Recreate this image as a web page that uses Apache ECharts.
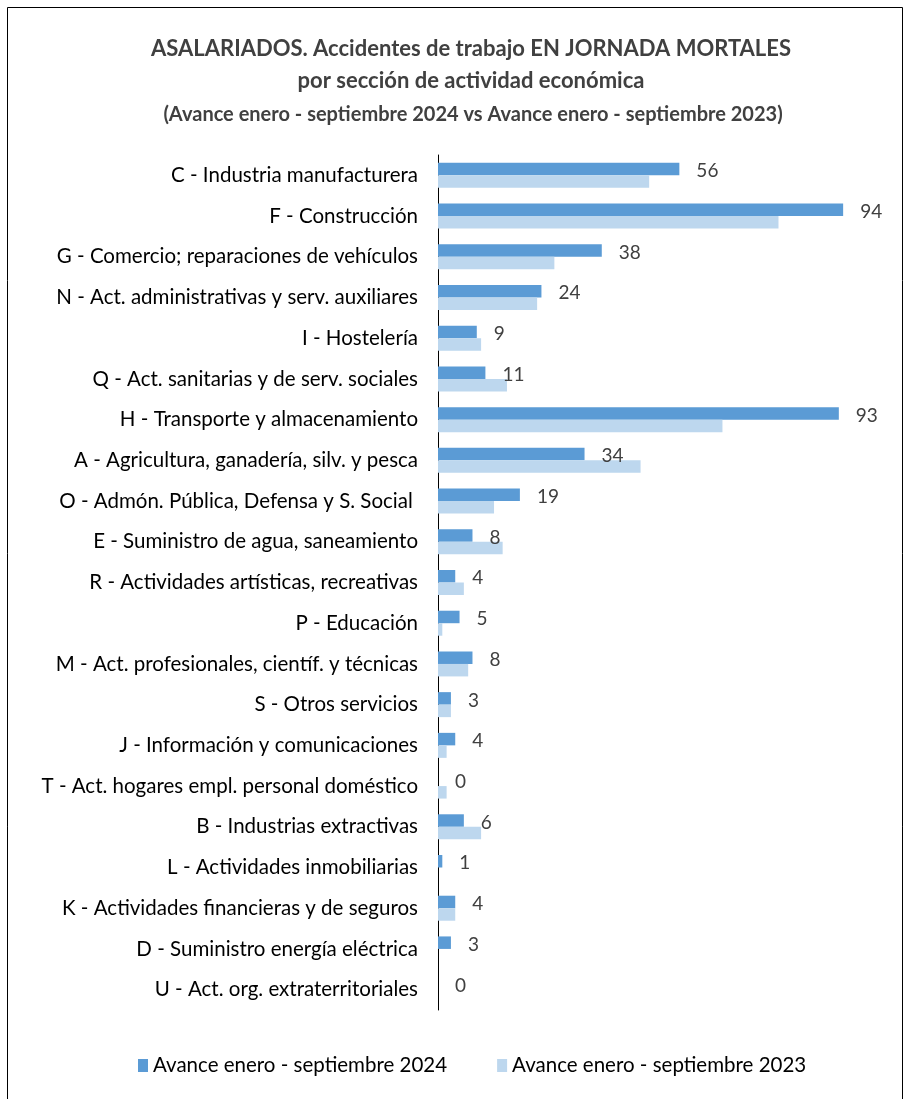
<!DOCTYPE html>
<html>
<head>
<meta charset="utf-8">
<script src="https://cdn.jsdelivr.net/npm/echarts@6/dist/echarts.min.js"></script>
<style>
html,body{margin:0;padding:0;background:#fff;}
#chart{width:910px;height:1099px;}
</style>
</head>
<body>
<div id="chart"></div>
<script>
var categories = [
  "C - Industria manufacturera",
  "F - Construcción",
  "G - Comercio; reparaciones de vehículos",
  "N - Act. administrativas y serv. auxiliares",
  "I - Hostelería",
  "Q - Act. sanitarias y de serv. sociales",
  "H - Transporte y almacenamiento",
  "A - Agricultura, ganadería, silv. y pesca",
  "O - Admón. Pública, Defensa y S. Social ",
  "E - Suministro de agua, saneamiento",
  "R - Actividades artísticas, recreativas",
  "P - Educación",
  "M - Act. profesionales, científ. y técnicas",
  "S - Otros servicios",
  "J - Información y comunicaciones",
  "T - Act. hogares empl. personal doméstico",
  "B - Industrias extractivas",
  "L - Actividades inmobiliarias",
  "K - Actividades financieras y de seguros",
  "D - Suministro energía eléctrica",
  "U - Act. org. extraterritoriales"
];
var values2024 = [56, 94, 38, 24, 9, 11, 93, 34, 19, 8, 4, 5, 8, 3, 4, 0, 6, 1, 4, 3, 0];
var values2023 = [49, 79, 27, 23, 10, 16, 66, 47, 13, 15, 6, 1, 7, 3, 2, 2, 10, 0, 4, 0, 0];
var seriesNames = ["Avance enero - septiembre 2024", "Avance enero - septiembre 2023"];
var titleLines = [
  "ASALARIADOS. Accidentes de trabajo EN JORNADA MORTALES",
  "por sección de actividad económica",
  "(Avance enero - septiembre 2024 vs Avance enero - septiembre 2023)"
];

var FONT = "Lato, 'Liberation Sans Narrow', 'DejaVu Sans Condensed', sans-serif";
var chart = echarts.init(document.getElementById('chart'));
chart.setOption({
  backgroundColor: '#fff',
  animation: false,
  textStyle: {fontFamily: FONT},
  title: [
    {text: titleLines[0], left: 466, top: 33, textAlign: 'center',
     textStyle: {fontFamily: FONT, fontSize: 22, fontWeight: 'bold', color: '#404040'}},
    {text: titleLines[1], left: 466, top: 65, textAlign: 'center',
     textStyle: {fontFamily: FONT, fontSize: 22, fontWeight: 'bold', color: '#404040'}},
    {text: titleLines[2], left: 468, top: 100, textAlign: 'center',
     textStyle: {fontFamily: FONT, fontSize: 20, fontWeight: 'bold', color: '#404040'}}
  ],
  graphic: [{
    type: 'rect', shape: {x: 7.5, y: 7.5, width: 895, height: 1120},
    style: {fill: 'none', stroke: '#000', lineWidth: 1}, silent: true
  }],
  legend: {
    data: seriesNames,
    left: 133, top: 1050,
    itemWidth: 10, itemHeight: 13, itemGap: 50,
    icon: 'rect',
    textStyle: {fontFamily: FONT, fontSize: 20.5, color: '#000'}
  },
  grid: {left: 438, right: 41, top: 155, bottom: 89, containLabel: false},
  xAxis: {type: 'value', min: 0, max: 100, show: false},
  yAxis: {
    type: 'category', data: categories, inverse: true,
    axisLine: {show: true, lineStyle: {color: '#000', width: 1}},
    axisTick: {show: false},
    axisLabel: {fontFamily: FONT, fontSize: 20.5, color: '#000', margin: 20}
  },
  series: [
    {name: seriesNames[0], type: 'bar', data: values2024, barWidth: 12.5, barGap: '0%',
     itemStyle: {color: '#5B9BD5'},
     label: {show: true, position: 'right', distance: 17, fontFamily: FONT, fontSize: 19, color: '#404040', offset: [0, 2]}},
    {name: seriesNames[1], type: 'bar', data: values2023, barWidth: 12.5, barGap: '0%',
     itemStyle: {color: '#BDD7EE'}}
  ]
});
</script>
</body>
</html>
